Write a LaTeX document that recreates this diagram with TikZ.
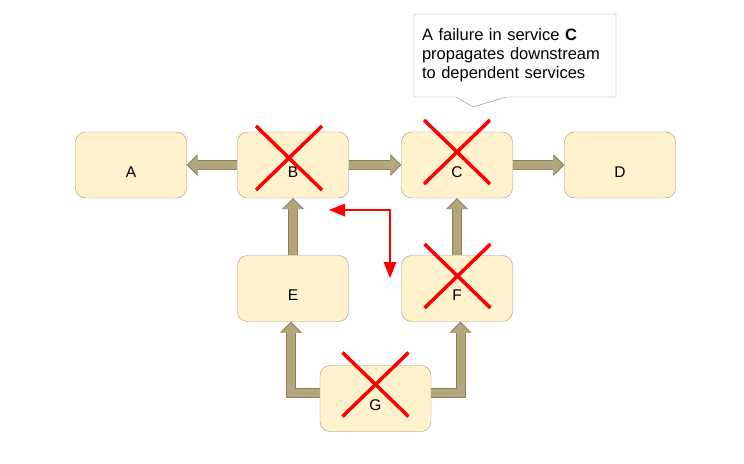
\documentclass[tikz,border=0pt]{standalone}
\usepackage{fontspec}
\setmainfont{Liberation Sans}
\usetikzlibrary{arrows.meta,shapes.callouts}
\definecolor{boxfill}{HTML}{FFF2CC}
\definecolor{boxline}{HTML}{A0926F}
\definecolor{depfill}{HTML}{B3A67D}
\definecolor{depline}{HTML}{8C7F5B}
\definecolor{noteline}{HTML}{8A8270}
\tikzset{
    svc/.style={draw=boxline,fill=boxfill,rounded corners=10pt,minimum width=111pt,minimum height=66pt,
        inner sep=0pt,text height=24pt,text depth=0pt,font=\fontsize{15.5}{18}\selectfont},
    dep/.style={draw=depline,line width=10pt,-{Triangle[length=11pt,width=22pt,line width=0pt]},
        postaction={draw=depfill,line width=8pt,shorten >=1.4pt,-{Triangle[length=9.5pt,width=19pt,line width=0pt]}}},
    fail/.style={draw=red,line width=3.5pt},
    hint/.style={draw=red,line width=2.5pt,
        {Triangle[length=16pt,width=13pt,line width=0pt]}-{Triangle[length=16pt,width=13pt,line width=0pt]}},
    note/.style={rectangle callout,draw=noteline,fill=white,minimum width=202pt,minimum height=83pt,
        callout pointer width=50pt,inner sep=0pt,text width=186pt,align=left,font=\fontsize{16.5}{19}\selectfont},
}
\begin{document}
\begin{tikzpicture}[x=1pt,y=-1pt]
    \useasboundingbox(0,0)rectangle(744,463);
    \node[svc](A)at(131,165){A};
    \node[svc](B)at(293,165){B};
    \node[svc](C)at(457,165){C};
    \node[svc](D)at(620,165){D};
    \node[svc](E)at(293,288.5){E};
    \node[svc](F)at(457,288.5){F};
    \node[svc](G)at(375.5,398.5){G};
    \draw[dep](B)--(A);
    \draw[dep](B)--(C);
    \draw[dep](C)--(D);
    \draw[dep](E)--(B);
    \draw[dep](F)--(C);
    \draw[dep]([yshift=6pt]G.west)-|([xshift=-2pt]E.south);
    \draw[dep]([yshift=6pt]G.east)-|([xshift=3.5pt]F.south);
    \foreach \n/\dx/\dy in {B/-4/-7,C/0/-13,F/0.5/-12.5,G/0/-14}{
        \draw[fail]([shift={(\dx-33,\dy-32)}]\n.center)--([shift={(\dx+33,\dy+32)}]\n.center);
        \draw[fail]([shift={(\dx+33,\dy-32)}]\n.center)--([shift={(\dx-33,\dy+32)}]\n.center);
    }
    \coordinate(hintL)at(329,210);
    \coordinate(hintD)at(390,278);
    \draw[hint](hintL)-|(hintD);
    \node[note,callout absolute pointer={(473,107)}](msg)at(515,55.5)
        {A failure in service \textbf{C}\\propagates downstream\\to dependent services};
\end{tikzpicture}
\end{document}
